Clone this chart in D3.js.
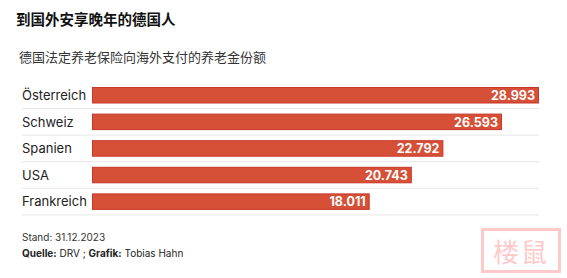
<!DOCTYPE html>
<html>
<head>
<meta charset="utf-8">
<script src="https://cdn.jsdelivr.net/npm/d3@7"></script>
<style>
  body { margin: 0; background: #fff; }
  text { font-family: Inter, "Noto Sans", sans-serif; }
  .cjk { font-family: "Noto Sans CJK SC", sans-serif; }
</style>
</head>
<body>
<div id="chart"></div>
<script>
const ancho = 567;
const alto = 278;

// datos
const paises = ["Österreich", "Schweiz", "Spanien", "USA", "Frankreich"];
const valores = [28993, 26593, 22792, 20743, 18011];
const etiquetas = ["28.993", "26.593", "22.792", "20.743", "18.011"];

const titulo = "到国外安享晚年的德国人";
const subtitulo = "德国法定养老保险向海外支付的养老金份额";

const datos = paises.map((p, i) => ({ pais: p, valor: valores[i], etiqueta: etiquetas[i] }));

const svg = d3
  .select("#chart")
  .append("svg")
  .attr("width", ancho)
  .attr("height", alto);

svg.append("text")
  .attr("class", "cjk")
  .attr("x", 16)
  .attr("y", 25)
  .attr("font-size", 14.5)
  .attr("font-weight", "bold")
  .attr("fill", "#111")
  .text(titulo);

svg.append("text")
  .attr("class", "cjk")
  .attr("x", 19)
  .attr("y", 62)
  .attr("font-size", 13)
  .attr("fill", "#333")
  .text(subtitulo);

// escalas
const x = d3.scaleLinear().domain([0, 28993]).range([92, 539]);
const y = d3.scaleBand().domain(paises).range([82, 82 + 26.6 * 5]);

const filas = svg.selectAll("g.fila").data(datos).enter()
  .append("g")
  .attr("class", "fila")
  .attr("transform", (d) => `translate(0, ${y(d.pais)})`);

filas.append("line")
  .attr("x1", 22)
  .attr("x2", 539)
  .attr("y1", 26.5)
  .attr("y2", 26.5)
  .attr("stroke", "#e6e6e6")
  .attr("stroke-width", 1);

filas.append("text")
  .attr("x", 22)
  .attr("y", 18)
  .attr("font-size", 13)
  .attr("fill", "#222")
  .text((d) => d.pais);

filas.append("rect")
  .attr("x", x(0) + 0.5)
  .attr("y", 5.5)
  .attr("width", (d) => x(d.valor) - x(0) - 1)
  .attr("height", 15.5)
  .attr("fill", "#d65038")
  .attr("stroke", "#c9362a")
  .attr("stroke-width", 1);

filas.append("text")
  .attr("x", (d) => x(d.valor) - 4)
  .attr("y", 18)
  .attr("text-anchor", "end")
  .attr("font-size", 12.5)
  .attr("font-weight", "bold")
  .attr("fill", "#fff")
  .text((d) => d.etiqueta);

// pie
svg.append("text")
  .attr("x", 22)
  .attr("y", 241)
  .attr("font-size", 10)
  .attr("fill", "#333")
  .text("Stand: 31.12.2023");

const fuente = svg.append("text")
  .attr("x", 22)
  .attr("y", 257)
  .attr("font-size", 10)
  .attr("fill", "#222");
fuente.append("tspan").attr("font-weight", "bold").text("Quelle:");
fuente.append("tspan").text(" DRV ; ");
fuente.append("tspan").attr("font-weight", "bold").text("Grafik:");
fuente.append("tspan").text(" Tobias Hahn");

// sello
const sello = svg.append("g").attr("opacity", 0.9);
sello.append("rect")
  .attr("x", 482.5)
  .attr("y", 229.5)
  .attr("width", 77)
  .attr("height", 42)
  .attr("fill", "none")
  .attr("stroke", "#ffc4c4")
  .attr("stroke-width", 3);
sello.append("text")
  .attr("class", "cjk")
  .attr("x", 521)
  .attr("y", 262)
  .attr("text-anchor", "middle")
  .attr("font-size", 26)
  .attr("letter-spacing", 2)
  .attr("fill", "#ffc4c4")
  .text("楼鼠");
</script>
</body>
</html>
